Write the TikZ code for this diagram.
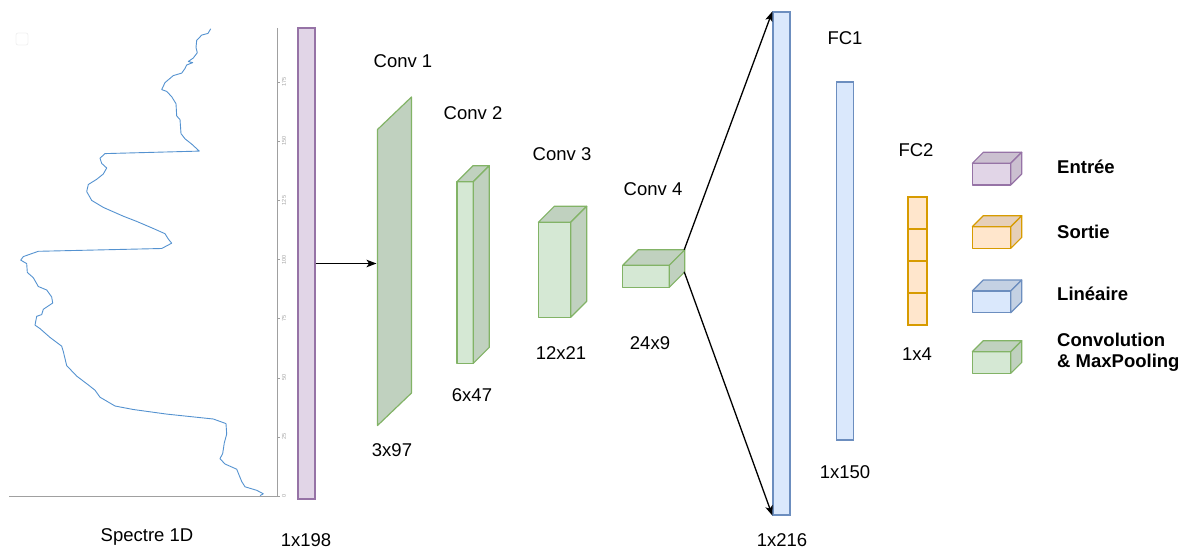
\documentclass[tikz,border=0pt]{standalone}
\usepackage{fontspec}
\setmainfont{Liberation Sans}
\usetikzlibrary{arrows.meta}
\definecolor{pfill}{HTML}{E1D5E7}\definecolor{pdraw}{HTML}{9673A6}\definecolor{pdark}{RGB}{203,192,208}
\definecolor{gfill}{HTML}{D5E8D4}\definecolor{gdraw}{HTML}{82B366}\definecolor{gdark}{RGB}{192,209,191}
\definecolor{bfill}{HTML}{DAE8FC}\definecolor{bdraw}{HTML}{6C8EBF}\definecolor{bdark}{RGB}{196,209,227}
\definecolor{ofill}{HTML}{FFE6CC}\definecolor{odraw}{HTML}{D79B00}\definecolor{odark}{RGB}{230,207,184}
\definecolor{curve}{RGB}{84,146,208}
\definecolor{axisgray}{RGB}{160,160,160}
\newcommand\mycube[6]{% x y w h d colorprefix
  \fill[#6fill] (#1,#2) rectangle ({#1+#3},{#2+#4});
  \filldraw[fill=#6dark,draw=#6draw,line width=1.2pt,line join=round]
    (#1,#2) -- ({#1+#5},{#2-#5}) -- ({#1+#3+#5},{#2-#5}) -- ({#1+#3},#2) -- cycle;
  \filldraw[fill=#6dark,draw=#6draw,line width=1.2pt,line join=round]
    ({#1+#3},#2) -- ({#1+#3+#5},{#2-#5}) -- ({#1+#3+#5},{#2+#4-#5}) -- ({#1+#3},{#2+#4}) -- cycle;
  \draw[#6draw,line width=1.2pt,line join=round] (#1,#2) rectangle ({#1+#3},{#2+#4});
}
\begin{document}
\begin{tikzpicture}[x=1pt,y=-1pt,
  lbl/.style={font=\fontsize{18.5}{21.5}\selectfont, inner sep=0pt},
  leg/.style={font=\fontsize{18.5}{21.5}\selectfont\bfseries, inner sep=0pt, anchor=west, align=left},
  barbox/.style={draw, rectangle, inner sep=0pt, line width=1.2pt},
  inbar/.style={barbox, fill=pfill, draw=pdraw},
  linbar/.style={barbox, fill=bfill, draw=bdraw},
  outcell/.style={barbox, fill=ofill, draw=odraw, minimum width=19pt, minimum height=32pt},
  arr/.style={-{Stealth[length=10pt,width=7.5pt,inset=2.5pt]}, line width=1.3pt, black},
  tick/.style={axisgray, line width=0.6pt},
  ticklbl/.style={font=\fontsize{5.5}{6}\selectfont, text=axisgray, rotate=90, inner sep=0pt}
]
\useasboundingbox (0,0) rectangle (1189,551);

% faint marker
\draw[gray!12, line width=0.8pt, rounded corners=2pt] (16,33) rectangle (28,45);

% spectrum axes
\draw[axisgray, line width=1pt] (277,28) -- (277,496) -- (9,496);
\foreach \v in {0,25,50,75,100,125,150,175}{
  \draw[tick] (277,{496-2.364*\v}) -- (280,{496-2.364*\v});
  \node[ticklbl] at (284,{496-2.364*\v}) {\v};
}
% spectrum curve
\draw[curve, line width=0.9pt, line join=round] plot coordinates {
(210.7,28.8) (208,33.4) (201.7,35.1) (196.7,40.4) (196,47.5) (197.3,52.7) (193.3,58)
(188.3,61.5) (192.7,62.6) (186.7,65) (185,68.5) (181.7,73.1) (173.3,75.6) (165,82.6)
(161.7,89.6) (166.7,91.4) (171.7,96.7) (176,103.7) (176.7,116) (180,119.5) (181,133.6)
(185,138.8) (191.7,144.1) (199.3,151.1) (105,153.6) (100,158.2) (101.7,163.4) (106.7,168)
(103.3,174) (96.7,179.3) (88.3,184.5) (86.7,191.6) (91.7,200.4) (103.3,207.4) (123.3,216.2)
(136.7,221.4) (153.3,228.5) (165,233.7) (168.3,239) (171.7,243.2) (161.7,248.5) (38.3,251.3)
(23.3,256.6) (20.7,260.1) (26.7,263.6) (27.3,272.4) (33.3,277.7) (38.3,286.5) (46.7,290)
(51.7,297) (52.7,303) (43.3,309.3) (41.7,314.6) (36.7,316.3) (35,325.1) (40,328.6)
(50,337.4) (61.7,346.2) (63.3,351.5) (66.7,365.6) (76.7,376.1) (88.3,384.9) (95,390.2)
(100,397.2) (115,406) (133.3,409.5) (166.7,414.1) (213.3,419) (226,423.6) (226.7,434.1)
(224.3,442.9) (222.7,453.4) (220,458.7) (225,464) (236.7,469.2) (241.7,481.5) (245,486.8)
(256.7,490.3) (263.3,493.8) (260,495.6)};

% input bar
\node[inbar, minimum width=17pt, minimum height=471pt] (in) at (306.5,263.5) {};

% conv1 (flat slab)
\filldraw[fill=gdark, draw=gdraw, line width=1.2pt, line join=round]
  (377.5,129.5) -- (411.5,97) -- (411.5,393) -- (377.5,425.5) -- cycle;
\coordinate (c1w) at (376.5,263.5);

% conv2..4
\mycube{457}{181.7}{16.3}{181.6}{16}{g}
\mycube{538.3}{222.3}{32.4}{95}{16}{g}
\mycube{622.7}{265.3}{46.6}{22}{15.5}{g}
\coordinate (c4ne) at (684.2,249.8);
\coordinate (c4se) at (684.2,271.8);

% linear bars
\node[linbar, minimum width=17pt, minimum height=503pt] (lin) at (781.5,263.5) {};
\node[linbar, minimum width=16.5pt, minimum height=358pt] (fc1) at (845,261) {};

% output cells
\node[outcell] (o1) at (917.5,213) {};
\node[outcell] (o2) at (917.5,245) {};
\node[outcell] (o3) at (917.5,277) {};
\node[outcell] (o4) at (917.5,309) {};

% connectors
\draw[arr] (in.east |- c1w) -- (c1w);
\draw[arr] (c4ne) -- (lin.north west);
\draw[arr] (c4se) -- (lin.south west);

% labels
\node[lbl] (tspec) at (147,537) {Spectre 1D};
\node[lbl] (t198) at (306,540) {1x198};
\node[lbl] (tc1) at (403,61) {Conv 1};
\node[lbl] (tc2) at (473,113) {Conv 2};
\node[lbl] (tc3) at (562,154) {Conv 3};
\node[lbl] (tc4) at (653,189) {Conv 4};
\node[lbl] (t397) at (392,450) {3x97};
\node[lbl] (t647) at (472,395) {6x47};
\node[lbl] (t1221) at (561,353) {12x21};
\node[lbl] (t249) at (650,343) {24x9};
\node[lbl] (t216) at (782,540) {1x216};
\node[lbl] (tfc1) at (845,38) {FC1};
\node[lbl] (t150) at (845,472) {1x150};
\node[lbl] (tfc2) at (916,150) {FC2};
\node[lbl] (t14) at (917,354) {1x4};

% legend
\mycube{972.3}{163.3}{38.4}{21.7}{11}{p}
\mycube{972.3}{226.7}{38.4}{21.7}{11}{o}
\mycube{972.3}{291}{38.4}{21.7}{11}{b}
\mycube{972.3}{351.7}{38.4}{21.7}{11}{g}
\node[leg] (lg1) at (1057,167) {Entrée};
\node[leg] (lg2) at (1057,232) {Sortie};
\node[leg] (lg3) at (1057,294) {Linéaire};
\node[leg] (lg4) at (1057,352.5) {Convolution\\\& MaxPooling};
\end{tikzpicture}
\end{document}
